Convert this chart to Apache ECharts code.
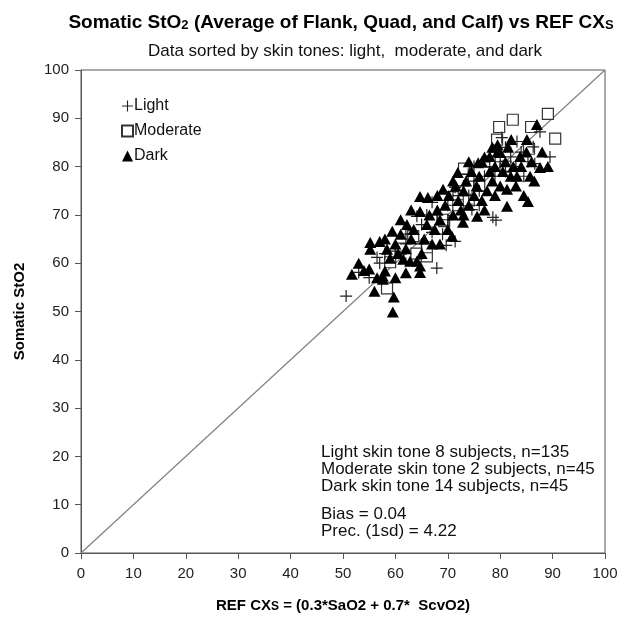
<!DOCTYPE html>
<html><head><meta charset="utf-8">
<script src="https://cdn.jsdelivr.net/npm/echarts@6/dist/echarts.min.js"></script>
<style>html,body{margin:0;padding:0;background:#fff}#c{width:629px;height:618px}</style>
</head><body><div id="c"></div>
<script>
var axisTicks = [0,10,20,30,40,50,60,70,80,90,100];
var legendNames = ['Light','Moderate','Dark'];
var identityLine = [[0,0],[100,100]];
var lightPts = [[50.6,53.2],[53,58.1],[56.5,61.2],[58,62],[67.9,59],[64.1,69.7],[69,66],[69.7,63.7],[67,66.4],[79.2,68.9],[71.4,64.5],[89.5,82],[87.6,87.2],[80.3,86],[83.2,85.2],[86.3,84.1],[86.6,80.6],[85.3,81],[74.6,71.1],[78.6,69.5],[67,72.6],[71.4,75.7],[73.9,78.4],[71,74.8],[60,62.5],[62,64],[63,66],[65,68],[66,70],[68,70],[70,72],[72,74],[73,76],[75,77],[76,75],[77,78],[78,80],[79,78],[80,81],[81,79],[82,82],[83,80],[84,83],[84.5,78],[76,72],[74,74],[70,69],[61,61],[57,60],[55,57],[79,83],[81,84],[75,80],[62,66],[65,64]];
var moderatePts = [[79.8,88.2],[82.4,89.7],[89.1,90.9],[85.9,88.2],[90.5,85.8],[79.4,85.6],[73.1,79.6],[85.5,83.7],[59,60.2],[66,61.4],[58.4,54.8],[69.3,68.7],[63.4,65.6],[66,63.3],[69,69],[72,72],[76,76],[78,81],[81,80],[74,73],[64,62],[61,63]];
var darkPts = [[51.7,57.7],[53,60],[54,58.5],[55,58.8],[55.2,62.9],[55.2,64.3],[56,54.2],[56.5,57],[57.6,56.7],[57.6,57.3],[58,58.4],[58.4,62.9],[59.4,66.6],[59.5,49.9],[59.7,53],[59,61],[60,64],[60.5,62],[61,66],[61.5,60.8],[62,63],[62.2,68],[62.8,60.4],[63,65],[63.5,67],[64.1,60.4],[64.7,58.1],[64.7,59.4],[64.7,70.7],[64.7,73.8],[65,62],[65.5,65],[66,68],[66.2,73.6],[66.5,70],[67,64],[67.5,67],[68,71],[68.5,69],[69.1,75.3],[69.5,72],[70,67],[70.2,74],[70.8,65.6],[71,70],[71.5,76],[71.9,78.8],[72,73],[72.5,71],[72.9,68.5],[73,75],[73.5,77],[74,72],[74.5,79],[75,74],[75.5,76],[75.6,69.7],[75.8,80.8],[76,78],[76.5,73],[77,82],[77.5,75],[78,82.1],[78,79],[78.5,77],[79,80],[79,74],[79.5,83],[80,82.9],[80,76],[80.5,79],[81,81],[81.3,71.8],[81.3,75.3],[81.5,84],[82,78],[82.1,85.6],[82.5,80],[83,76],[83.2,78],[83.8,82.1],[84,80],[84.5,74],[85,83],[85.1,85.6],[85.3,72.8],[85.7,78],[86,81],[87,88.7],[87.6,79.8],[88,83],[89.1,80],[86.5,77],[77,71],[73,70],[68,74],[63,71],[61,69],[58,65],[57,64.5],[71,77],[74,81],[76.5,81],[78.5,84],[79.5,84.5],[68.5,64],[62,58],[60,57]];
var notes = ['Light skin tone 8 subjects, n=135','Moderate skin tone 2 subjects, n=45','Dark skin tone 14 subjects, n=45','Bias = 0.04','Prec. (1sd) = 4.22'];
var noteY = [452,469,486,514,531];

var FONT = 'Liberation Sans, Arial, sans-serif';
var plusPath = 'path://M4.5,0H5.5V4.5H10V5.5H5.5V10H4.5V5.5H0V4.5H4.5Z';
var chart = echarts.init(document.getElementById('c'), null, {renderer:'canvas'});
var noteGraphics = notes.map(function(t,i){
  return {type:'text', x:321, y:noteY[i], style:{text:t, font:'17px '+FONT, fill:'#111', textVerticalAlign:'middle'}};
});
chart.setOption({
  animation:false,
  backgroundColor:'#fff',
  title:[{
    text:'{a|Somatic StO}{s|2}{a| (Average of Flank, Quad, and Calf) vs REF CX}{s|S}',
    left:336, textAlign:'center', top:8,
    textStyle:{rich:{a:{fontSize:19,fontWeight:'bold',fontFamily:FONT,color:'#000'},
                     s:{fontSize:13,fontWeight:'bold',fontFamily:FONT,color:'#000',padding:[5,0,0,0]}}}
  },{
    text:'Data sorted by skin tones: light,  moderate, and dark',
    left:340, textAlign:'center', top:38,
    textStyle:{fontSize:17,fontWeight:'normal',fontFamily:FONT,color:'#111'}
  }],
  grid:{left:81,right:24,top:70,bottom:63,show:true,borderColor:'#555',borderWidth:1,backgroundColor:'transparent'},
  legend:{
    data:legendNames, orient:'vertical', left:116, top:93, itemGap:9, itemWidth:11, itemHeight:11,
    textStyle:{fontSize:16,fontFamily:FONT,color:'#111',padding:[0,0,0,-4]}
  },
  xAxis:{
    type:'value', min:axisTicks[0], max:axisTicks[axisTicks.length-1], interval:10,
    name:'{a|REF CX}{s|S}{a| = (0.3*SaO2 + 0.7*  ScvO2)}', nameLocation:'middle', nameGap:45,
    nameTextStyle:{rich:{a:{fontSize:15,fontWeight:'bold',fontFamily:FONT,color:'#000'},
                         s:{fontSize:12,fontWeight:'bold',fontFamily:FONT,color:'#000',padding:[3,0,0,0]}}},
    axisLine:{lineStyle:{color:'#555',width:1}},
    axisTick:{show:true,inside:false,length:6,lineStyle:{color:'#555'}},
    axisLabel:{fontSize:15,fontFamily:FONT,color:'#222',margin:13},
    splitLine:{show:false}
  },
  yAxis:{
    type:'value', min:axisTicks[0], max:axisTicks[axisTicks.length-1], interval:10,
    name:'Somatic StO2', nameLocation:'middle', nameGap:54, nameRotate:90,
    nameTextStyle:{fontSize:15,fontWeight:'bold',fontFamily:FONT,color:'#000'},
    axisLine:{lineStyle:{color:'#555',width:1}},
    axisTick:{show:true,inside:false,length:6,lineStyle:{color:'#555'}},
    axisLabel:{fontSize:15,fontFamily:FONT,color:'#222',margin:12},
    splitLine:{show:false}
  },
  graphic:noteGraphics,
  series:[
    {type:'line', data:identityLine, showSymbol:false, symbol:'none', silent:true,
     lineStyle:{color:'#808080',width:1.2}, z:1},
    {name:'Light', type:'scatter', data:lightPts, symbol:plusPath, symbolSize:12,
     itemStyle:{color:'#222',opacity:1}, z:3},
    {name:'Moderate', type:'scatter', data:moderatePts, symbol:'rect', symbolSize:11,
     itemStyle:{color:'#fff',borderColor:'#333',borderWidth:1.2,opacity:1}, z:2},
    {name:'Dark', type:'scatter', data:darkPts, symbol:'triangle', symbolSize:[12,11],
     itemStyle:{color:'#000',opacity:1}, z:4}
  ]
});
</script></body></html>
